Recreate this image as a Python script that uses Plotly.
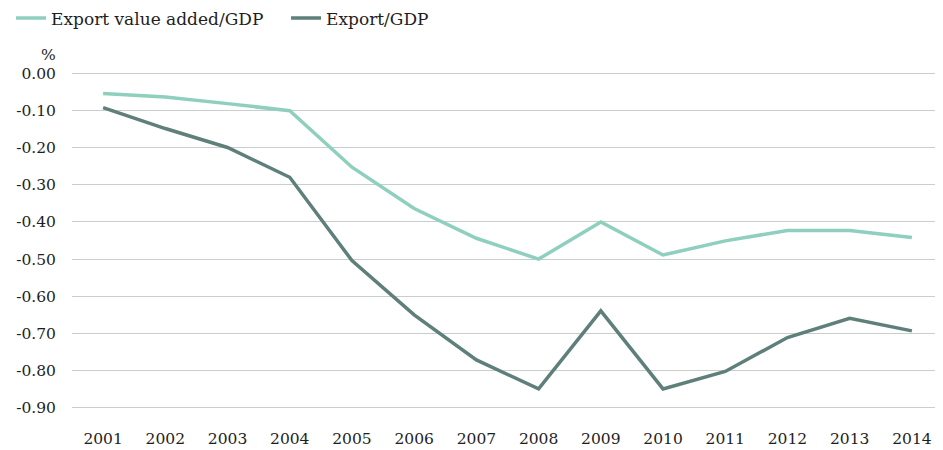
import plotly.graph_objects as go

years = ["2001", "2002", "2003", "2004", "2005", "2006", "2007",
         "2008", "2009", "2010", "2011", "2012", "2013", "2014"]
export_value_added_gdp = [-0.055, -0.064, -0.082, -0.101, -0.253, -0.364, -0.444,
                          -0.500, -0.400, -0.489, -0.451, -0.423, -0.423, -0.442]
export_gdp = [-0.093, -0.149, -0.200, -0.280, -0.504, -0.650, -0.771,
              -0.849, -0.639, -0.849, -0.802, -0.711, -0.659, -0.693]
y_ticks = [0.0, -0.1, -0.2, -0.3, -0.4, -0.5, -0.6, -0.7, -0.8, -0.9]
y_tick_labels = ["0.00", "-0.10", "-0.20", "-0.30", "-0.40", "-0.50",
                 "-0.60", "-0.70", "-0.80", "-0.90"]

FONT = "DejaVu Serif"
TXT = "#1e1e1e"

fig = go.Figure()
fig.add_trace(go.Scatter(x=years, y=export_value_added_gdp, mode="lines",
                         name="Export value added/GDP",
                         line=dict(color="#8ecfbe", width=3.5)))
fig.add_trace(go.Scatter(x=years, y=export_gdp, mode="lines",
                         name="Export/GDP",
                         line=dict(color="#5f7f7a", width=3.5)))

# page body has an 8px margin: figure is sized/offset to compensate
fig.update_layout(
    width=935, height=442,
    margin=dict(l=64, r=0, t=64, b=41, autoexpand=False),
    paper_bgcolor="white", plot_bgcolor="white",
    font=dict(family=FONT, size=15.5, color=TXT),
    showlegend=True,
    legend=dict(orientation="h", x=-0.07, xanchor="left",
                y=1.212, yanchor="top",
                font=dict(family=FONT, size=17, color=TXT),
                entrywidth=230, entrywidthmode="pixels",
                tracegroupgap=0),
    xaxis=dict(type="category", range=[-0.5, 13.5], showgrid=False,
               showline=False, zeroline=False, ticks="outside", ticklen=15,
               tickcolor="rgba(0,0,0,0)", automargin=False,
               tickfont=dict(family=FONT, size=15.5, color=TXT)),
    yaxis=dict(range=[-0.903, 0.003], tickvals=y_ticks, ticktext=y_tick_labels,
               showgrid=True, gridcolor="#c9cdcc", gridwidth=1.2,
               zeroline=False, showline=False, ticks="outside", ticklen=12,
               tickcolor="rgba(0,0,0,0)", automargin=False,
               tickfont=dict(family=FONT, size=15.5, color=TXT)),
    annotations=[dict(text="%", xref="paper", yref="paper", x=0, y=1,
                      xanchor="right", yanchor="bottom", xshift=-14, yshift=6,
                      showarrow=False, font=dict(family=FONT, size=15.5, color=TXT))],
)

fig.write_html("out.html")
